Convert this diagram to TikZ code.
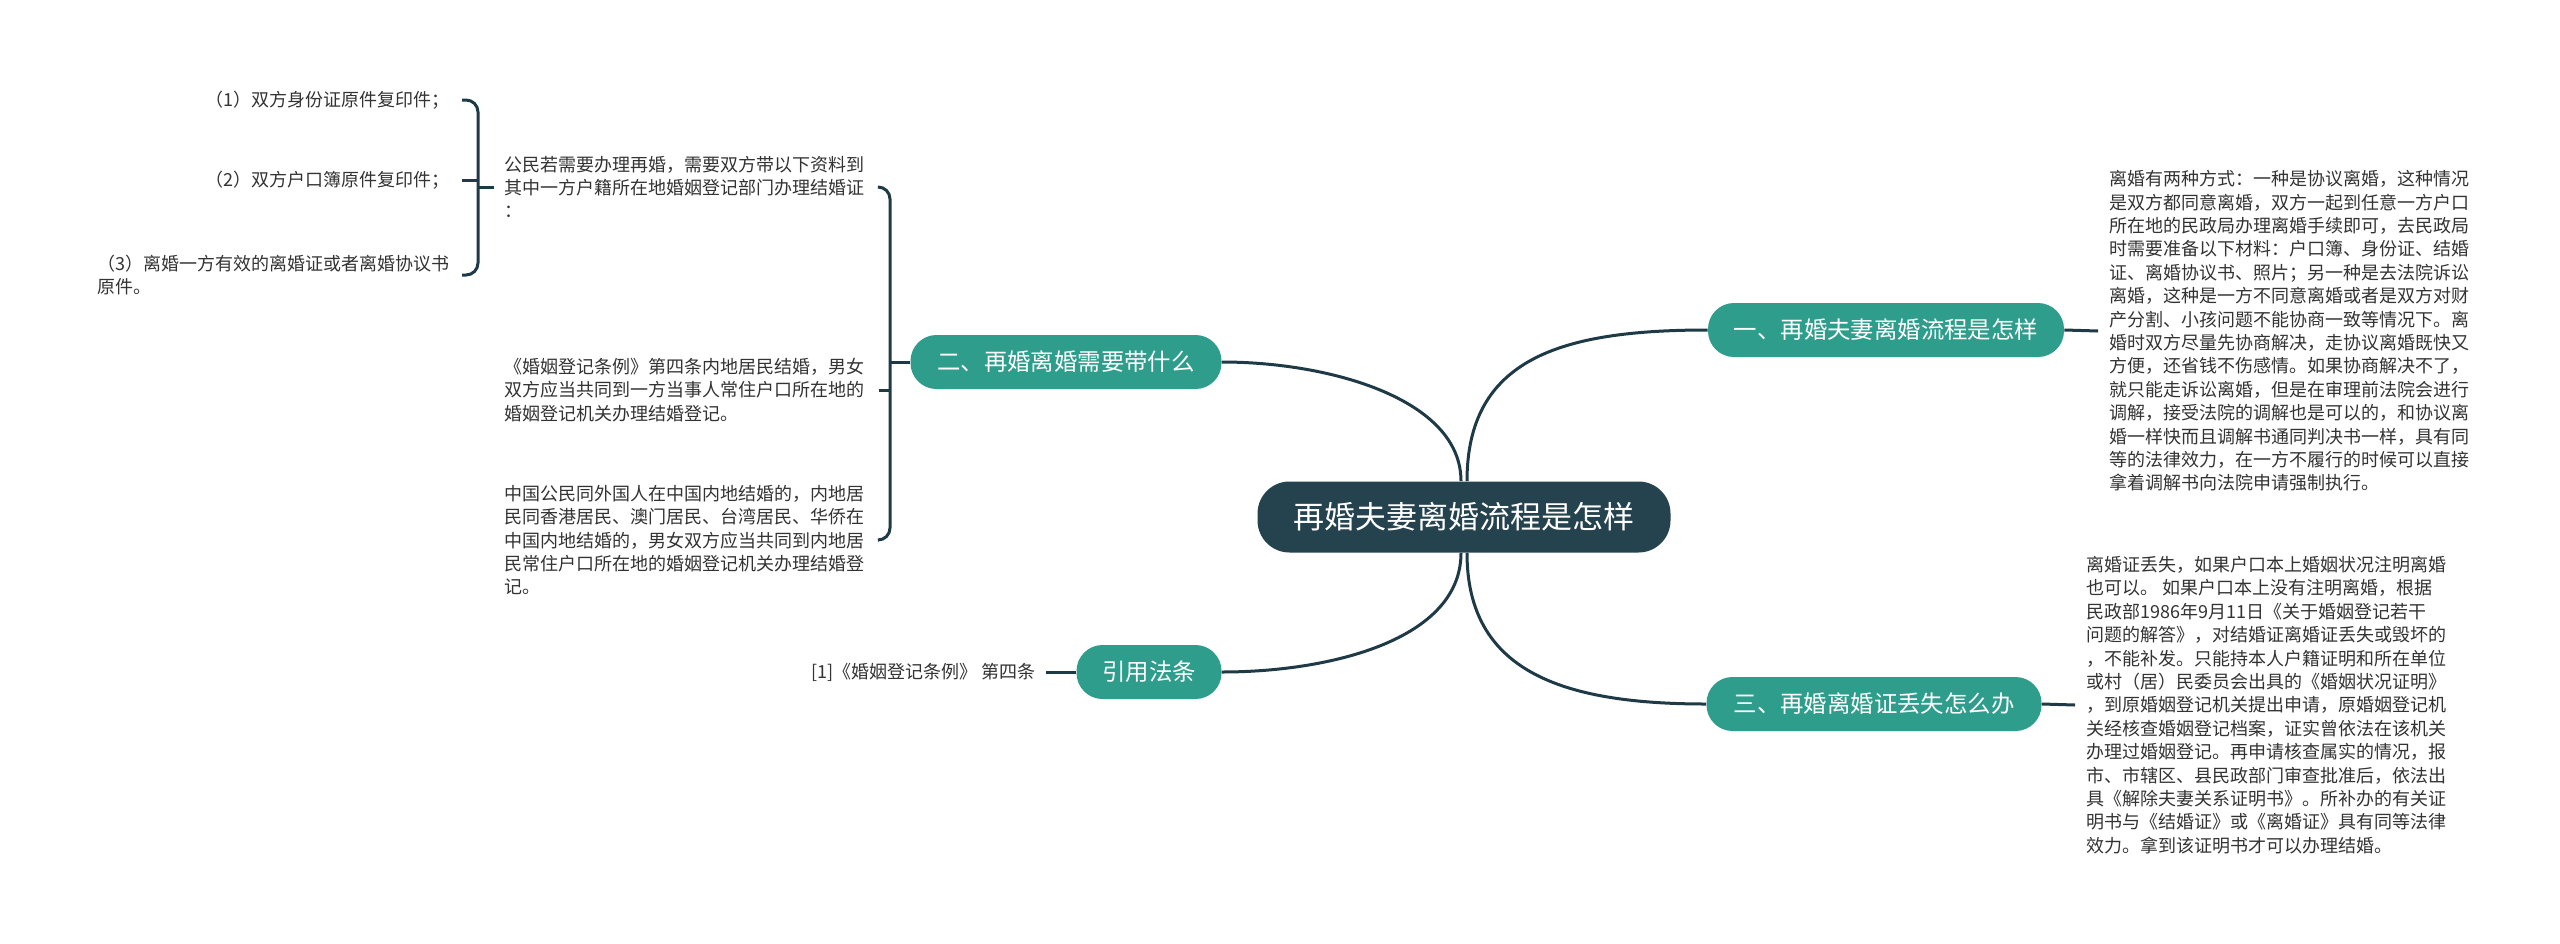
\documentclass[tikz,border=0pt]{standalone}
\usepackage{fontspec}
\setmainfont{Noto Sans CJK SC}
\usetikzlibrary{calc}
\definecolor{teal1}{HTML}{2E9D8B}
\definecolor{dark1}{HTML}{25434F}
\definecolor{line1}{HTML}{1E3A46}
\definecolor{txt}{HTML}{333333}
\begin{document}
\begin{tikzpicture}[x=0.5pt,y=-0.5pt,
  conn/.style={draw=line1,line width=1.5pt},
  mainbox/.style={fill=dark1,text=white,rounded corners=16pt,minimum height=35.5pt,font=\fontsize{15.5}{18}\selectfont,inner sep=0pt},
  topic/.style={fill=teal1,text=white,rounded corners=13pt,minimum height=27pt,font=\fontsize{11.7}{14}\selectfont,inner sep=0pt},
  body/.style={text=txt,align=left,inner sep=0pt,font=\fontsize{9}{11.7}\selectfont}]
\useasboundingbox[fill=white] (0,0) rectangle (2560,943);

\node[mainbox,minimum width=206.5pt] (c) at (1464,517) {再婚夫妻离婚流程是怎样};
\node[topic,minimum width=178pt] (b1) at (1886,330) {一、再婚夫妻离婚流程是怎样};
\node[topic,minimum width=155.5pt] (b2) at (1066,362) {二、再婚离婚需要带什么};
\node[topic,minimum width=167.5pt] (b3) at (1874,704) {三、再婚离婚证丢失怎么办};
\node[topic,minimum width=72.5pt] (r) at (1149,672) {引用法条};

\node[body,anchor=west] (t1) at (2109,331) {离婚有两种方式：一种是协议离婚，这种情况\\
是双方都同意离婚，双方一起到任意一方户口\\
所在地的民政局办理离婚手续即可，去民政局\\
时需要准备以下材料：户口簿、身份证、结婚\\
证、离婚协议书、照片；另一种是去法院诉讼\\
离婚，这种是一方不同意离婚或者是双方对财\\
产分割、小孩问题不能协商一致等情况下。离\\
婚时双方尽量先协商解决，走协议离婚既快又\\
方便，还省钱不伤感情。如果协商解决不了，\\
就只能走诉讼离婚，但是在审理前法院会进行\\
调解，接受法院的调解也是可以的，和协议离\\
婚一样快而且调解书通同判决书一样，具有同\\
等的法律效力，在一方不履行的时候可以直接\\
拿着调解书向法院申请强制执行。};

\node[body,anchor=west] (t3) at (2086,705) {离婚证丢失，如果户口本上婚姻状况注明离婚\\
也可以。 如果户口本上没有注明离婚，根据\\
民政部1986年9月11日《关于婚姻登记若干\\
问题的解答》，对结婚证离婚证丢失或毁坏的\\
，不能补发。只能持本人户籍证明和所在单位\\
或村（居）民委员会出具的《婚姻状况证明》\\
，到原婚姻登记机关提出申请，原婚姻登记机\\
关经核查婚姻登记档案，证实曾依法在该机关\\
办理过婚姻登记。再申请核查属实的情况，报\\
市、市辖区、县民政部门审查批准后，依法出\\
具《解除夫妻关系证明书》。所补办的有关证\\
明书与《结婚证》或《离婚证》具有同等法律\\
效力。拿到该证明书才可以办理结婚。};

\node[body,anchor=west] (t2a) at (504,187) {公民若需要办理再婚，需要双方带以下资料到\\
其中一方户籍所在地婚姻登记部门办理结婚证\\
：};
\node[body,anchor=west] (t2b) at (504,390) {《婚姻登记条例》第四条内地居民结婚，男女\\
双方应当共同到一方当事人常住户口所在地的\\
婚姻登记机关办理结婚登记。};
\node[body,anchor=west] (t2c) at (504,540) {中国公民同外国人在中国内地结婚的，内地居\\
民同香港居民、澳门居民、台湾居民、华侨在\\
中国内地结婚的，男女双方应当共同到内地居\\
民常住户口所在地的婚姻登记机关办理结婚登\\
记。};

\node[body,anchor=east] (i1) at (450,100) {（1）双方身份证原件复印件；};
\node[body,anchor=east] (i2) at (450,180) {（2）双方户口簿原件复印件；};
\node[body,anchor=east] (i3) at (450,275) {（3）离婚一方有效的离婚证或者离婚协议书\\原件。};

\node[body,anchor=east] (rt) at (1036,672) {[1]《婚姻登记条例》 第四条};

% main curves
\draw[conn] ([xshift=1.5pt]c.north) .. controls +(0,-122) and +(-148,0) .. (b1.west);
\draw[conn] ([xshift=-1.5pt]c.north) .. controls +(0,-82) and +(108,0) .. (b2.east);
\draw[conn] ([xshift=1.5pt]c.south) .. controls +(0,117) and +(-147,0) .. (b3.west);
\draw[conn] ([xshift=-1.5pt]c.south) .. controls +(0,87) and +(108,0) .. (r.east);

% short links
\draw[conn] (b1.east) -- ([xshift=-5.5pt]t1.west);
\draw[conn] (b3.east) -- ([xshift=-5.5pt]t3.west);
\draw[conn] (r.west) -- ([xshift=5pt]rt.east);

% bracket for branch 2
\coordinate (s2) at (890,362);
\draw[conn] (b2.west) -- (s2);
\draw[conn,rounded corners=6pt] ([xshift=7pt]t2a.east) -| (s2) |- ([xshift=7pt]t2c.east);
\draw[conn] ([xshift=7pt]t2b.east) -- (s2 |- t2b.east);

% bracket for items
\coordinate (s1) at (478,187);
\draw[conn] (s1) -- ([xshift=-5pt]t2a.west);
\draw[conn,rounded corners=6pt] ([xshift=6pt]i1.east) -| (s1) |- ([xshift=6pt]i3.east);
\draw[conn] ([xshift=6pt]i2.east) -- (s1 |- i2.east);
\end{tikzpicture}
\end{document}
